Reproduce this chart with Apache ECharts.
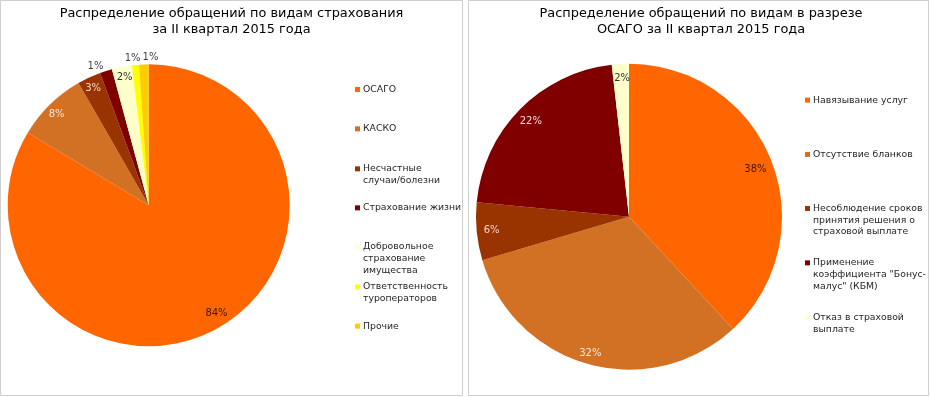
<!DOCTYPE html>
<html lang="ru">
<head>
    <meta charset="UTF-8">
    <title>Распределение обращений</title>
    <script src="https://cdn.jsdelivr.net/npm/echarts@6/dist/echarts.min.js"></script>
    <style>
        html, body {
            margin: 0;
            padding: 0;
            background: #fff;
        }

        #main {
            width: 930px;
            height: 397px;
        }
    </style>
</head>
<body>
<div id="main"></div>

<script type="text/javascript">
    // левая диаграмма: виды страхования
    const leftNames = ['ОСАГО', 'КАСКО', 'Несчастные\nслучаи/болезни', 'Страхование жизни',
        'Добровольное\nстрахование\nимущества', 'Ответственность\nтуроператоров', 'Прочие'];
    const leftValues = [83.6, 8.1, 2.7, 1.4, 2.3, 0.8, 1.1];

    // правая диаграмма: ОСАГО в разрезе
    const rightNames = ['Навязывание услуг', 'Отсутствие бланков',
        'Несоблюдение сроков\nпринятия решения о\nстраховой выплате',
        'Применение\nкоэффициента "Бонус-\nмалус" (КБМ)', 'Отказ в страховой\nвыплате'];
    const rightValues = [38.1, 32.3, 6.1, 21.7, 1.8];

    const leftColors = ['#FF6600', '#D27124', '#993300', '#800000', '#FFFFCC', '#FFFF00', '#FFCC00'];
    const rightColors = ['#FF6600', '#D27124', '#993300', '#800000', '#FFFFCC'];

    // цвет подписей и какие подписи снаружи круга
    const leftLabelColors = ['#3b1600', '#fbe6d8', '#f4d6c6', '#404040', '#333333', '#404040', '#404040'];
    const leftOuter = [false, false, false, true, false, true, true];
    const rightLabelColors = ['#3b1600', '#fbe6d8', '#f4d6c6', '#f6d8d8', '#333333'];
    // небольшие сдвиги подписей (как расставил их Excel)
    const leftInnerNudge = [[3, -6], [0, 3], [0, 2], [0, 0], [1, 1], [0, 0], [0, 0]];
    const leftOuterNudge = [[0, 0], [0, 0], [0, 0], [-8, 3], [0, 0], [-2, 1], [7, 1]];
    const rightNudge = [[-3, 3], [-2, 3], [1, 0], [1, 2], [1, 0]];

    // положение строк легенды (центр первой строки)
    const leftLegendY = [89.3, 128.7, 168.7, 207.7, 246.7, 286.7, 326];
    const rightLegendY = [100, 154.3, 208.3, 262.7, 317.3];

    const FONT = '"DejaVu Sans", Verdana, sans-serif';
    const LH = 11.7;

    const LEFT_C = [148.7, 205.3], LEFT_R = 141;
    const RIGHT_C = [629, 216.7], RIGHT_R = 153;

    function pctLabel(p) {
        return Math.round(p.percent) + '%';
    }

    function mainPie(center, r, names, values, colors) {
        return {
            type: 'pie',
            center: center,
            radius: [0, r],
            startAngle: 90,
            clockwise: true,
            silent: true,
            label: {show: false},
            labelLine: {show: false},
            data: names.map(function (n, i) {
                return {name: n, value: values[i], itemStyle: {color: colors[i]}};
            })
        };
    }

    // прозрачное кольцо только для подписей
    function labelRing(center, radius, names, values, colors, shown, nudge) {
        return {
            type: 'pie',
            center: center,
            radius: radius,
            startAngle: 90,
            clockwise: true,
            silent: true,
            itemStyle: {color: 'rgba(0,0,0,0)'},
            label: {
                position: 'inside',
                fontFamily: FONT,
                fontSize: 10,
                formatter: pctLabel
            },
            labelLine: {show: false},
            labelLayout: function (p) {
                return {dx: nudge[p.dataIndex][0], dy: nudge[p.dataIndex][1]};
            },
            data: names.map(function (n, i) {
                return {name: n, value: values[i], label: {show: shown[i], color: colors[i]}};
            })
        };
    }

    function legendFor(name, color, left, y) {
        return {
            data: [name],
            left: left,
            top: y - LH / 2,
            orient: 'vertical',
            padding: 0,
            icon: 'none',
            itemWidth: 0,
            itemHeight: LH,
            formatter: function (n) {
                return n.split('\n').map(function (l, i) {
                    return (i ? '{p|}' : '{m|}') + '{t|' + l + '}';
                }).join('\n');
            },
            textStyle: {
                rich: {
                    m: {width: 5, height: 5, backgroundColor: color},
                    p: {width: 5, height: 5},
                    t: {fontFamily: FONT, fontSize: 9.3, lineHeight: LH, color: '#1f1f1f', padding: [0, 0, 0, 3]}
                }
            }
        };
    }

    let legends = [];
    leftNames.forEach(function (n, i) {
        legends.push(legendFor(n, leftColors[i], 350, leftLegendY[i]));
    });
    rightNames.forEach(function (n, i) {
        legends.push(legendFor(n, rightColors[i], 800, rightLegendY[i]));
    });

    let titleStyle = {fontFamily: FONT, fontSize: 12.9, fontWeight: 'normal', color: '#000', lineHeight: 16.5};

    let chart = echarts.init(document.getElementById('main'), null, {renderer: 'canvas'});
    let option = {
        animation: false,
        backgroundColor: '#fff',
        title: [{
            text: 'Распределение обращений по видам страхования\nза II квартал 2015 года',
            left: 231.5,
            top: 5,
            padding: 0,
            textAlign: 'center',
            textStyle: titleStyle
        }, {
            text: 'Распределение обращений по видам в разрезе\nОСАГО за II квартал 2015 года',
            left: 701,
            top: 5,
            padding: 0,
            textAlign: 'center',
            textStyle: titleStyle
        }],
        legend: legends,
        graphic: [{
            type: 'rect',
            shape: {x: 0.5, y: 0.5, width: 462, height: 395},
            style: {fill: 'none', stroke: '#cfcfcf', lineWidth: 1},
            silent: true
        }, {
            type: 'rect',
            shape: {x: 468.5, y: 0.5, width: 460, height: 395},
            style: {fill: 'none', stroke: '#cfcfcf', lineWidth: 1},
            silent: true
        }],
        series: [
            mainPie(LEFT_C, LEFT_R, leftNames, leftValues, leftColors),
            labelRing(LEFT_C, [116, LEFT_R], leftNames, leftValues, leftLabelColors,
                leftOuter.map(function (o) { return !o; }), leftInnerNudge),
            labelRing(LEFT_C, [LEFT_R, 151], leftNames, leftValues, leftLabelColors, leftOuter, leftOuterNudge),
            mainPie(RIGHT_C, RIGHT_R, rightNames, rightValues, rightColors),
            labelRing(RIGHT_C, [119, RIGHT_R], rightNames, rightValues, rightLabelColors,
                rightNames.map(function () { return true; }), rightNudge)
        ]
    };

    chart.setOption(option);
</script>
</body>
</html>
